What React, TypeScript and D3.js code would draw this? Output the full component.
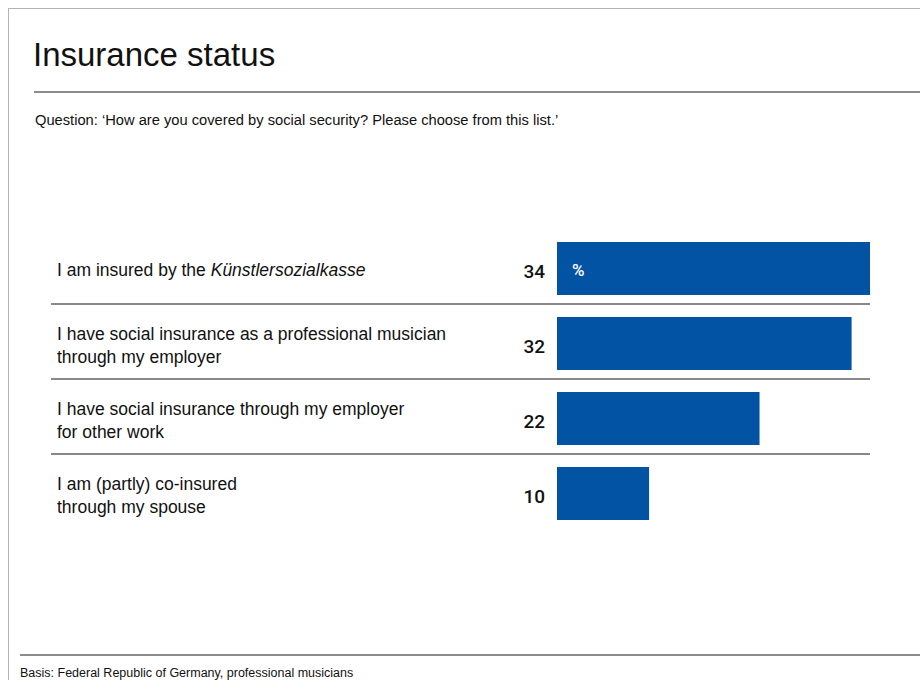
import React from "react";
import * as d3 from "d3";

const title = "Insurance status";
const question = "Question: \u2018How are you covered by social security? Please choose from this list.\u2019";
const footer = "Basis: Federal Republic of Germany, professional musicians";

const categories: { lines: { text: string; italic?: boolean }[][] }[] = [
  { lines: [[{ text: "I am insured by the " }, { text: "K\u00fcnstlersozialkasse", italic: true }]] },
  { lines: [[{ text: "I have social insurance as a professional musician" }], [{ text: "through my employer" }]] },
  { lines: [[{ text: "I have social insurance through my employer" }], [{ text: "for other work" }]] },
  { lines: [[{ text: "I am (partly) co-insured" }], [{ text: "through my spouse" }]] },
];
const values = [34, 32, 22, 10];

const FONT = "'Liberation Sans', Arial, sans-serif";
const NUMFONT = "Roboto, 'Liberation Sans', sans-serif";
const BLUE = "#0353a4";

export default function App() {
  const x = d3.scaleLinear().domain([0, 34]).range([557, 870]);
  const rowTop = (i: number) => 230 + i * 75;

  return (
    <svg width={920} height={680} style={{ position: "absolute", left: 0, top: 0, background: "#fff" }} fontFamily={FONT}>
      <rect x={8.5} y={8.5} width={930} height={700} fill="none" stroke="#b3b3b3" strokeWidth={1} />
      <text x={33} y={66} fontSize={33} fill="#111">{title}</text>
      <line x1={34} x2={920} y1={92} y2={92} stroke="#666" strokeWidth={1.5} />
      <text x={35} y={125} fontSize={14.7} fill="#111">{question}</text>

      {values.map((v, i) => {
        const top = rowTop(i) + 12;
        const h = 53;
        const cy = top + h / 2;
        const cat = categories[i];
        const nLines = cat.lines.length;
        const lineH = 23;
        const firstBase = cy + 7.5 - ((nLines - 1) * lineH) / 2;
        return (
          <g key={i}>
            {cat.lines.map((ln, j) => (
              <text key={j} x={57} y={firstBase + j * lineH} fontSize={17.5} fill="#111">
                {ln.map((seg, k) => (
                  <tspan key={k} fontStyle={seg.italic ? "italic" : "normal"}>{seg.text}</tspan>
                ))}
              </text>
            ))}
            <rect x={x(0)} y={top} width={x(v) - x(0)} height={h} fill={BLUE} />
            <text x={545} y={cy + 9.5} textAnchor="end" fontFamily={NUMFONT} fontSize={19} fontWeight={500} fill="#111">{v}</text>
            {i === 0 && (
              <text x={572} y={cy + 7} fontFamily={NUMFONT} fontSize={17} fontWeight={500} fill="#fff">%</text>
            )}
            {i < values.length - 1 && (
              <line x1={51} x2={870} y1={rowTop(i) + 74} y2={rowTop(i) + 74} stroke="#888" strokeWidth={2} />
            )}
          </g>
        );
      })}

      <line x1={20} x2={920} y1={655} y2={655} stroke="#666" strokeWidth={1.5} />
      <text x={20} y={677} fontSize={12.5} fill="#111">{footer}</text>
    </svg>
  );
}
